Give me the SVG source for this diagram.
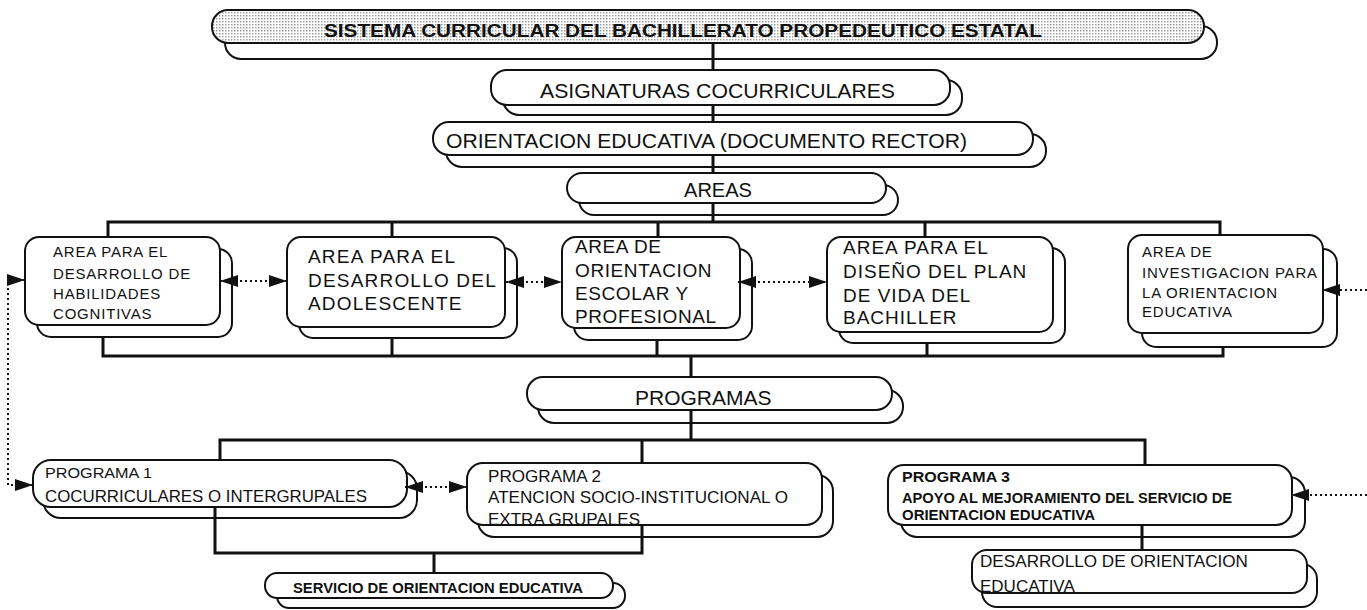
<svg xmlns="http://www.w3.org/2000/svg" width="1367" height="610" viewBox="0 0 1367 610">
<defs>
<pattern id="dots" width="3" height="3" patternUnits="userSpaceOnUse"><rect width="3" height="3" fill="#fff"/><rect width="1.5" height="1.5" fill="#a0a0a0"/></pattern>
<marker id="ah" viewBox="0 0 18 12" refX="18" refY="6" markerWidth="18" markerHeight="12" markerUnits="userSpaceOnUse" orient="auto-start-reverse"><path d="M0,0 L18,6 L0,12 Z" fill="#111"/></marker>
</defs>
<style>
.b{fill:#fff;stroke:#111;stroke-width:2}
.c{fill:none;stroke:#111;stroke-width:3}
.d{fill:none;stroke:#111;stroke-width:2;stroke-dasharray:2 3}
text{font-family:"Liberation Sans",Arial,sans-serif;fill:#111}
.t21{font-size:21px}
.t19{font-size:19px;letter-spacing:0.8px}
.t15{font-size:15px;letter-spacing:0.8px}
.bd{font-weight:bold}
</style>
<rect width="1367" height="610" fill="#fff"/>
<g id="title">
<rect class="b" x="225" y="26" width="992" height="33" rx="16"/>
<rect x="212" y="10" width="992" height="33" rx="16" fill="url(#dots)" stroke="#111" stroke-width="2"/>
<text x="324" y="37" font-size="19" class="bd" textLength="718" lengthAdjust="spacingAndGlyphs">SISTEMA CURRICULAR DEL BACHILLERATO PROPEDEUTICO ESTATAL</text>
</g>
<g id="asignaturas">
<rect class="b" x="503" y="80" width="459" height="35" rx="16"/>
<rect class="b" x="491" y="70" width="459" height="35" rx="16"/>
<text x="540" y="98" class="t21" textLength="355" lengthAdjust="spacingAndGlyphs">ASIGNATURAS COCURRICULARES</text>
</g>
<g id="orientacion">
<rect class="b" x="446" y="134" width="600" height="33" rx="16"/>
<rect class="b" x="433" y="122" width="600" height="33" rx="16"/>
<text x="446" y="148" class="t21" textLength="521" lengthAdjust="spacingAndGlyphs">ORIENTACION EDUCATIVA (DOCUMENTO RECTOR)</text>
</g>
<g id="areas">
<rect class="b" x="579" y="185" width="319" height="30" rx="15"/>
<rect class="b" x="567" y="173" width="319" height="30" rx="15"/>
<text x="684" y="197" class="t21" textLength="68" lengthAdjust="spacingAndGlyphs">AREAS</text>
</g>
<g id="area1">
<rect class="b" x="37" y="249" width="195" height="88" rx="14"/>
<rect class="b" x="25" y="237" width="195" height="88" rx="14"/>
<text class="t15"><tspan x="53" y="257">AREA PARA EL</tspan><tspan x="53" y="279">DESARROLLO DE</tspan><tspan x="53" y="299">HABILIDADES</tspan><tspan x="53" y="319">COGNITIVAS</tspan></text>
</g>
<g id="area2">
<rect class="b" x="299" y="248" width="218" height="90" rx="14"/>
<rect class="b" x="287" y="237" width="218" height="90" rx="14"/>
<text class="t19" style="letter-spacing:1.2px"><tspan x="308" y="263">AREA PARA EL</tspan><tspan x="308" y="287">DESARROLLO DEL</tspan><tspan x="308" y="310">ADOLESCENTE</tspan></text>
</g>
<g id="area3">
<rect class="b" x="574" y="249" width="178" height="91" rx="14"/>
<rect class="b" x="562" y="237" width="178" height="91" rx="14"/>
<text class="t19" style="letter-spacing:0.6px"><tspan x="575" y="253">AREA DE</tspan><tspan x="575" y="277">ORIENTACION</tspan><tspan x="575" y="300">ESCOLAR Y</tspan><tspan x="575" y="323">PROFESIONAL</tspan></text>
</g>
<g id="area4">
<rect class="b" x="839" y="248" width="226" height="95" rx="14"/>
<rect class="b" x="827" y="237" width="226" height="95" rx="14"/>
<text class="t19" style="letter-spacing:1px"><tspan x="843" y="254">AREA PARA EL</tspan><tspan x="843" y="278">DISEÑO DEL PLAN</tspan><tspan x="843" y="302">DE VIDA DEL</tspan><tspan x="843" y="324">BACHILLER</tspan></text>
</g>
<g id="area5">
<rect class="b" x="1142" y="249" width="195" height="98" rx="14"/>
<rect class="b" x="1128" y="235" width="195" height="98" rx="14"/>
<text class="t15"><tspan x="1142" y="257">AREA DE</tspan><tspan x="1142" y="278">INVESTIGACION PARA</tspan><tspan x="1142" y="298">LA ORIENTACION</tspan><tspan x="1142" y="317">EDUCATIVA</tspan></text>
</g>
<g id="programas">
<rect class="b" x="538" y="390" width="365" height="33" rx="16"/>
<rect class="b" x="527" y="377" width="365" height="33" rx="16"/>
<text x="635" y="405" class="t21">PROGRAMAS</text>
</g>
<g id="programa1">
<rect class="b" x="43" y="471" width="374" height="47" rx="18"/>
<rect class="b" x="33" y="460" width="374" height="47" rx="18"/>
<text x="45" y="478" font-size="15" textLength="107" lengthAdjust="spacingAndGlyphs">PROGRAMA 1</text>
<text x="45" y="502" font-size="17" textLength="322" lengthAdjust="spacingAndGlyphs">COCURRICULARES O INTERGRUPALES</text>
</g>
<g id="programa2">
<rect class="b" x="478" y="475" width="355" height="62" rx="16"/>
<rect class="b" x="467" y="463" width="355" height="62" rx="16"/>
<text x="488" y="482" font-size="16.5" textLength="113" lengthAdjust="spacingAndGlyphs">PROGRAMA 2</text>
<text x="488" y="503" font-size="16.5" textLength="300" lengthAdjust="spacingAndGlyphs">ATENCION SOCIO-INSTITUCIONAL O</text>
<text x="488" y="525" font-size="16.5" textLength="152" lengthAdjust="spacingAndGlyphs">EXTRA GRUPALES</text>
</g>
<g id="programa3">
<rect class="b" x="901" y="477" width="404" height="60" rx="16"/>
<rect class="b" x="888" y="465" width="404" height="60" rx="16"/>
<text x="902" y="482" font-size="14" class="bd" textLength="108" lengthAdjust="spacingAndGlyphs">PROGRAMA 3</text>
<text x="902" y="503" font-size="14" class="bd" textLength="330" lengthAdjust="spacingAndGlyphs">APOYO AL MEJORAMIENTO DEL SERVICIO DE</text>
<text x="902" y="520" font-size="14" class="bd" textLength="193" lengthAdjust="spacingAndGlyphs">ORIENTACION EDUCATIVA</text>
</g>
<g id="servicio">
<rect class="b" x="277" y="583" width="348" height="25" rx="12"/>
<rect class="b" x="265" y="573" width="348" height="25" rx="12"/>
<text x="293" y="593" font-size="14" class="bd" textLength="290" lengthAdjust="spacingAndGlyphs">SERVICIO DE ORIENTACION EDUCATIVA</text>
</g>
<g id="desarrollo">
<rect class="b" x="982" y="564" width="335" height="43" rx="15"/>
<rect class="b" x="972" y="550" width="335" height="43" rx="15"/>
<text x="980" y="567" font-size="17" textLength="268" lengthAdjust="spacingAndGlyphs">DESARROLLO DE ORIENTACION</text>
<text x="980" y="592" font-size="17">EDUCATIVA</text>
</g>
<g id="connectors">
<path class="c" d="M713 43 V70 M713 105 V122 M713 155 V173 M713 203 V222"/>
<path class="c" d="M108 237 V222 H1220 V235 M392 222 V237 M658 222 V237 M925 222 V237"/>
<path class="c" d="M103 337 V356 H1223 V347 M392 338 V356 M657 340 V356 M927 343 V356"/>
<path class="c" d="M691 356 V377 M691 410 V440"/>
<path class="c" d="M220 460 V440 H1145 V465 M642 440 V463"/>
<path class="c" d="M215 507 V553 H642 V525 M434 553 V573"/>
<path class="c" d="M1142 525 V550"/>
<path class="d" d="M25 280 H8 V485 H33" marker-start="url(#ah)" marker-end="url(#ah)"/>
<path class="d" d="M220 281 H287" marker-start="url(#ah)" marker-end="url(#ah)"/>
<path class="d" d="M506 282 H562" marker-start="url(#ah)" marker-end="url(#ah)"/>
<path class="d" d="M738 282 H827" marker-start="url(#ah)" marker-end="url(#ah)"/>
<path class="d" d="M1367 290 H1322" marker-end="url(#ah)"/>
<path class="d" d="M405 487 H467" marker-start="url(#ah)" marker-end="url(#ah)"/>
<path class="d" d="M1367 495 H1291" marker-end="url(#ah)"/>
</g>
</svg>
